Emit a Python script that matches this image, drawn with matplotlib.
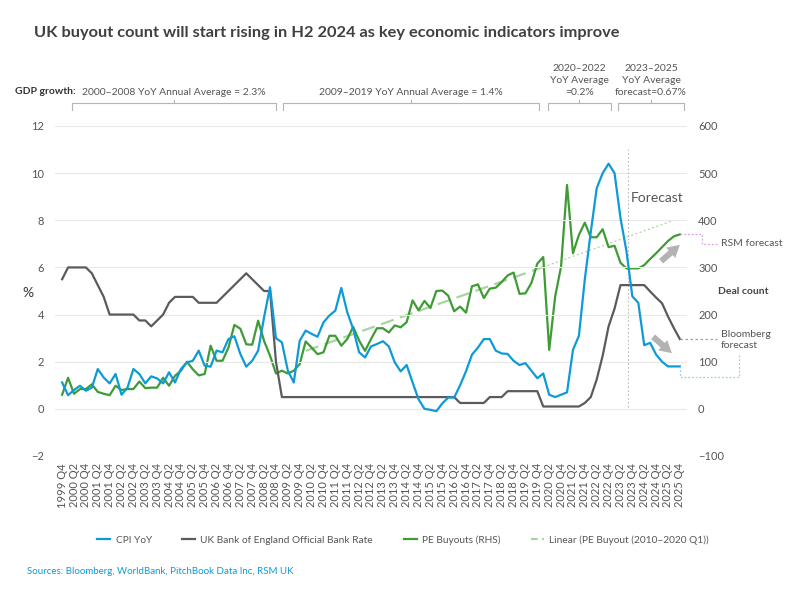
import matplotlib
matplotlib.use("Agg")
import matplotlib.pyplot as plt
from matplotlib.lines import Line2D
from matplotlib.patches import FancyArrowPatch
from matplotlib.transforms import IdentityTransform

plt.rcParams['font.family'] = ['Lato', 'DejaVu Sans']

# Quarter labels, 1999 Q4 .. 2025 Q4
quarters = ["1999 Q4"] + [f"{y} Q{q}" for y in range(2000, 2026) for q in range(1, 5)]

# CPI YoY (%)
cpi = [1.12, 0.58, 0.80, 0.98, 0.77, 0.90, 1.69, 1.33, 1.08, 1.48,
       0.60, 0.90, 1.69, 1.48, 1.08, 1.38, 1.29, 1.08, 1.55, 1.12,
       1.69, 1.97, 2.04, 2.47, 1.83, 1.79, 2.47, 2.40, 2.96, 3.08,
       2.33, 1.79, 2.04, 2.47, 3.89, 5.16, 3.00, 2.82, 1.62, 1.12,
       2.89, 3.32, 3.18, 3.06, 3.67, 3.96, 4.17, 5.13, 4.10, 3.39,
       2.40, 2.18, 2.65, 2.75, 2.87, 2.65, 1.97, 1.59, 1.86, 1.12,
       0.41, 0.00, -0.04, -0.10, 0.23, 0.48, 0.48, 1.00, 1.60, 2.30,
       2.60, 2.96, 2.96, 2.47, 2.35, 2.33, 2.04, 1.86, 1.94, 1.62,
       1.30, 1.50, 0.60, 0.50, 0.60, 0.70, 2.50, 3.10, 5.50, 7.50,
       9.36, 10.00, 10.40, 10.00, 8.10, 6.70, 4.77, 4.50, 2.70, 2.80,
       2.30, 2.00, 1.80, 1.80, 1.80]

# UK Bank of England official bank rate (%)
bank_rate = [5.50, 6.00, 6.00, 6.00, 6.00, 5.75, 5.25, 4.75, 4.00, 4.00,
             4.00, 4.00, 4.00, 3.75, 3.75, 3.50, 3.75, 4.00, 4.50, 4.75,
             4.75, 4.75, 4.75, 4.50, 4.50, 4.50, 4.50, 4.75, 5.00, 5.25,
             5.50, 5.75, 5.50, 5.25, 5.00, 5.00, 2.00, 0.50, 0.50, 0.50,
             0.50, 0.50, 0.50, 0.50, 0.50, 0.50, 0.50, 0.50, 0.50, 0.50,
             0.50, 0.50, 0.50, 0.50, 0.50, 0.50, 0.50, 0.50, 0.50, 0.50,
             0.50, 0.50, 0.50, 0.50, 0.50, 0.50, 0.50, 0.25, 0.25, 0.25,
             0.25, 0.25, 0.50, 0.50, 0.50, 0.75, 0.75, 0.75, 0.75, 0.75,
             0.75, 0.10, 0.10, 0.10, 0.10, 0.10, 0.10, 0.10, 0.25, 0.50,
             1.25, 2.25, 3.50, 4.25, 5.25, 5.25, 5.25, 5.25, 5.25, 4.98,
             4.72, 4.48, 3.92, 3.42, 2.96]

# PE buyouts deal count (RHS)
pe_buyouts = [30, 66, 32, 42, 42, 52, 36, 32, 29, 49,
              40, 42, 42, 58, 44, 45, 45, 66, 49, 70,
              81, 100, 84, 71, 74, 134, 102, 102, 130, 178,
              170, 137, 136, 187, 144, 113, 75, 81, 75, 81,
              95, 143, 130, 116, 120, 155, 155, 134, 148, 174,
              145, 123, 148, 171, 171, 162, 177, 173, 184, 230,
              209, 229, 214, 250, 251, 240, 207, 217, 204, 260,
              264, 235, 255, 257, 269, 283, 289, 244, 245, 267,
              308, 322, 125, 238, 302, 475, 330, 369, 395, 364,
              364, 381, 343, 346, 310, 298, 298, 298, 305, 318,
              330, 343, 356, 366, 370]

# Linear trend of PE buyouts (fit 2010-2020 Q1, then extended)
trend_quarters = ["2010 Q1", "2020 Q1", "2025 Q3"]
trend_values = [123, 301, 400]

forecast_quarter = "2023 Q3"

# GDP growth brackets: (start, end, label)
gdp_brackets = [(1.6, 36.0, "2000–2008 YoY Annual Average = 2.3%"),
                (37.2, 80.3, "2009–2019 YoY Annual Average = 1.4%"),
                (81.8, 92.4, "2020–2022\nYoY Average\n=0.2%"),
                (93.6, 104.7, "2023–2025\nYoY Average\nforecast=0.67%")]

BLUE = '#0e9ad7'
GREY = '#5b5b5f'
GREEN = '#3f9b35'
LIGHT_GREEN = '#a8d59f'
TEXT = '#555555'

W, H = 800, 602
fig = plt.figure(figsize=(W / 100, H / 100), dpi=100)
ax = fig.add_axes([55 / W, 1 - 456 / H, (687 - 55) / W, (456 - 126) / H])
ax2 = ax.twinx()

x = list(range(len(quarters)))
ax.plot(x, bank_rate, color=GREY, lw=1.6, zorder=3)
ax2.plot(x, pe_buyouts, color=GREEN, lw=1.6, zorder=3)
ax.plot(x, cpi, color=BLUE, lw=1.6, zorder=4)

ti = [quarters.index(q) for q in trend_quarters]
ax2.plot(ti[:2], trend_values[:2], color=LIGHT_GREEN, lw=1.6, ls=(0, (6, 3)), zorder=2)
ax2.plot(ti[1:], trend_values[1:], color=LIGHT_GREEN, lw=0.8, ls=(0, (2, 2)), zorder=2)

# put ax (CPI, rate) above ax2
ax.set_zorder(ax2.get_zorder() + 1)
ax.patch.set_visible(False)

ax.set_xlim(-1.2, 105.2)
ax.set_ylim(-2, 12)
ax2.set_ylim(-100, 600)
ax.set_yticks(range(-2, 13, 2))
ax.set_yticklabels(['−2'] + [str(v) for v in range(0, 13, 2)])
ax2.set_yticks(range(-100, 601, 100))
ax2.set_yticklabels(['−100'] + [str(v) for v in range(0, 601, 100)])
ax.set_xticks(x[::2])
ax.set_xticklabels(quarters[::2], rotation=90, fontsize=7.3, color=TEXT)
ax.grid(axis='y', color='#e8e8e8', lw=0.8, zorder=0)
for a in (ax, ax2):
    for s in a.spines.values():
        s.set_visible(False)
    a.tick_params(length=0, labelsize=8, labelcolor=TEXT)
ax.tick_params(axis='y', pad=8)
ax2.tick_params(axis='y', pad=8)
ax.tick_params(axis='x', pad=5)
ax.set_ylabel('%', rotation=0, fontsize=10, color='#333333', va='center', ha='center')
ax.yaxis.set_label_coords((28 - 55) / 632, (456 - 293) / 330)

# forecast divider
fq = quarters.index(forecast_quarter) + 0.2
ax.axvline(fq, ymin=0.15, ymax=0.93, color='#bbbbbb', lw=0.8, ls=(0, (1.5, 2)))
fig.text(631 / W, 1 - 198 / H, 'Forecast', fontsize=10, color=TEXT, va='center')


def px(xp, yp):
    return xp / W, 1 - yp / H


# GDP growth brackets along the top
bt = ax.get_xaxis_transform()
fig.text(*px(15, 92), 'GDP growth:', fontsize=7.5, fontweight='bold', color='#333333', va='center')
y_line, y_end, y_mid = 1 + (126 - 103) / 330, 1 + (126 - 110) / 330, 1 + (126 - 100) / 330
for x0, x1, label in gdp_brackets:
    xm = (x0 + x1) / 2
    ax.plot([x0, x0, x1, x1], [y_end, y_line, y_line, y_end], transform=bt,
            color='#b5b5b5', lw=0.8, clip_on=False)
    ax.plot([xm, xm], [y_line, y_mid], transform=bt, color='#b5b5b5', lw=0.8, clip_on=False)
    ax.text(xm, 1 + (126 - 97) / 330, label, transform=bt, ha='center', va='bottom',
            fontsize=7.5, color=TEXT, linespacing=1.45)


# forecast connectors from the series end points (display pixels)
def connector(axis, xv, yv, offsets, **kw):
    x0, y0 = axis.transData.transform((xv, yv))
    xs = [x0 + dx for dx, dy in offsets]
    ys = [y0 - dy for dx, dy in offsets]
    fig.add_artist(Line2D(xs, ys, transform=IdentityTransform(), **kw))


last = x[-1]
connector(ax2, last, pe_buyouts[-1], [(0, 0), (22, 0), (22, 10), (38, 10)],
          color='#d6a6e3', lw=0.9, ls=(0, (1.5, 1.5)))
connector(ax, last, bank_rate[-1], [(0, 0), (37, 0)], color='#a0a0a0', lw=0.9, ls=(0, (2, 2)))
connector(ax, last, cpi[-1], [(0, 0), (0, 10.6), (59.6, 10.6), (59.6, -11.7)],
          color='#8fd3f0', lw=0.9, ls=(0, (1.5, 1.5)))
fig.text(*px(721, 244), 'RSM forecast', fontsize=7.5, color=TEXT, va='center')
fig.text(*px(718, 291), 'Deal count', fontsize=7.5, fontweight='bold', color='#444444', va='center')
fig.text(*px(721, 340), 'Bloomberg\nforecast', fontsize=7.5, color=TEXT, va='center', linespacing=1.15)

arrow = dict(arrowstyle='simple,head_width=0.9,head_length=0.8,tail_width=0.4',
             color='#b3b3b3', lw=0, mutation_scale=11)
fig.add_artist(FancyArrowPatch(px(659, 263), px(682, 243), transform=fig.transFigure, **arrow))
fig.add_artist(FancyArrowPatch(px(651, 335), px(674, 355), transform=fig.transFigure, **arrow))

# title and source
fig.text(*px(34, 33), 'UK buyout count will start rising in H2 2024 as key economic indicators improve',
         fontsize=11.75, fontweight='bold', color='#404040', va='center')
fig.text(*px(27, 572), 'Sources: Bloomberg, WorldBank, PitchBook Data Inc, RSM UK',
         fontsize=7, color='#0a9bd8', va='center')

# legend
handles = [Line2D([], [], color=BLUE, lw=1.6),
           Line2D([], [], color=GREY, lw=1.6),
           Line2D([], [], color=GREEN, lw=1.6),
           Line2D([], [], color=LIGHT_GREEN, lw=1.6, ls=(0, (3, 2)))]
labels = ['CPI YoY', 'UK Bank of England Official Bank Rate', 'PE Buyouts (RHS)',
          'Linear (PE Buyout (2010–2020 Q1))']
leg = fig.legend(handles, labels, loc='center', bbox_to_anchor=(403 / W, 1 - 540 / H), ncol=4,
                 frameon=False, fontsize=7.3, handlelength=1.3, handletextpad=0.5, columnspacing=3.0)
for t in leg.get_texts():
    t.set_color(TEXT)

fig.savefig('out.png', dpi=100)
